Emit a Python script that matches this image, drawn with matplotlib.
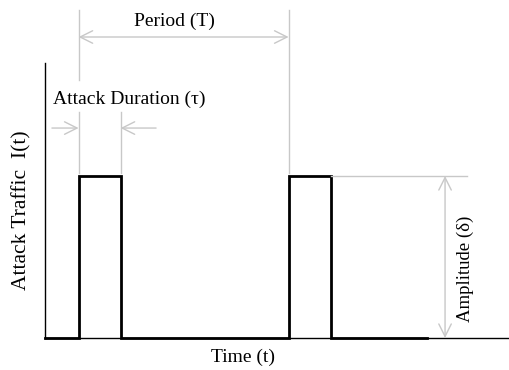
import matplotlib
matplotlib.use("Agg")
import matplotlib.pyplot as plt

# periodic pulse attack signal
time = [0, 1.6, 1.6, 3.6, 3.6, 11.6, 11.6, 13.6, 13.6, 18.2]
level = [0, 0, 1, 1, 0, 0, 1, 1, 0, 0]
t_start, t_dur, t_period = 1.6, 2.0, 10.0
amp = 1.0

grey = "#c8c8c8"
plt.rcParams["font.family"] = ["Liberation Serif", "DejaVu Serif"]
fs = 14

fig = plt.figure(figsize=(5.1, 3.7), dpi=100)
ax = fig.add_axes([0, 0, 1, 1])
ax.set_xlim(-45 / 21, 465 / 21)
ax.set_ylim(-32 / 162, 338 / 162)
ax.axis("off")

# axes lines
ax.plot([0, 0], [0, 1.70], color="black", lw=1)
ax.plot([0, 22.2], [0, 0], color="black", lw=1)

# signal
ax.plot(time, level, color="black", lw=2, solid_joinstyle="miter")

p1 = t_start
p2 = t_start + t_period
d2 = t_start + t_dur
arr = dict(color=grey, lw=1, shrinkA=0, shrinkB=0)

# period guides
ax.plot([p1, p1], [1.593, 2.025], color=grey, lw=1)
ax.plot([p2, p2], [1.02, 2.025], color=grey, lw=1)
ax.annotate("", xy=(p1, 1.858), xytext=(p2, 1.858),
            arrowprops=dict(arrowstyle="<->,head_length=0.9,head_width=0.45", **arr))
ax.text(6.14, 1.957, "Period (T)", ha="center", va="center", fontsize=fs)

# duration guides
ax.plot([p1, p1], [1.02, 1.395], color=grey, lw=1)
ax.plot([d2, d2], [1.02, 1.395], color=grey, lw=1)
ax.annotate("", xy=(p1, 1.296), xytext=(0.33, 1.296),
            arrowprops=dict(arrowstyle="->,head_length=0.9,head_width=0.45", **arr))
ax.annotate("", xy=(d2, 1.296), xytext=(5.29, 1.296),
            arrowprops=dict(arrowstyle="->,head_length=0.9,head_width=0.45", **arr))
ax.text(0.38, 1.472, "Attack Duration (τ)", ha="left", va="center", fontsize=fs)

# amplitude guides
ax.plot([t_start + t_period + t_dur, 20.1], [amp, amp], color=grey, lw=1)
ax.annotate("", xy=(19.05, 0), xytext=(19.05, amp),
            arrowprops=dict(arrowstyle="<->,head_length=0.9,head_width=0.45", **arr))
ax.text(20.0, 0.426, "Amplitude (δ)", ha="center", va="center", rotation=90, fontsize=13.5)

ax.text(9.43, -0.117, "Time (t)", ha="center", va="center", fontsize=fs)
ax.text(-1.1, 0.79, "Attack Traffic  I(t)", ha="center", va="center", rotation=90, fontsize=15.5)

fig.savefig("out.png", dpi=100)
